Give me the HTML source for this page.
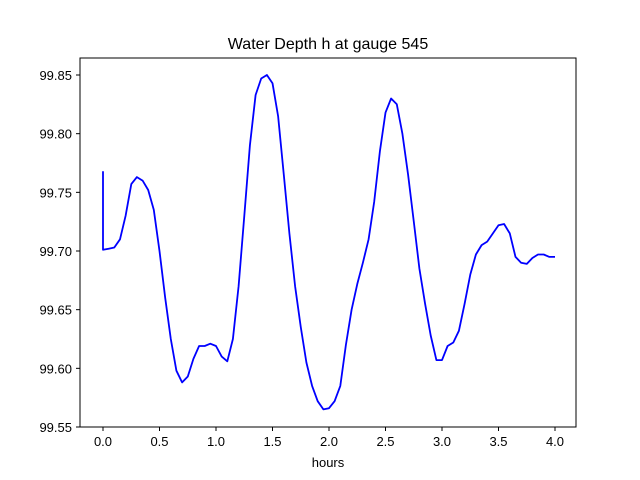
<!DOCTYPE html>
<html><head><meta charset="utf-8"><style>
body{margin:0;background:#fff}
svg{display:block;font-family:"Liberation Sans","DejaVu Sans",sans-serif}
</style></head><body>
<svg id="chart" width="640" height="480">
<rect width="640" height="480" fill="#fff"/>
<text x="328" y="49" text-anchor="middle" font-size="16">Water Depth h at gauge 545</text>
<g id="xticks"></g>
<g id="yticks"></g>
<path id="line" fill="none" stroke="#0000ff" stroke-width="1.8" stroke-linejoin="round"/>
<rect x="80" y="58" width="496" height="369" fill="none" stroke="#000" stroke-width="1"/>
<text x="328" y="467" text-anchor="middle" font-size="13">hours</text>
</svg>
<script>
const times = [0,0,0.05,0.1,0.15,0.2,0.25,0.3,0.35,0.4,0.45,0.5,0.55,0.6,0.65,0.7,0.75,0.8,0.85,0.9,0.95,1.0,1.05,1.1,1.15,1.2,1.25,1.3,1.35,1.4,1.45,1.5,1.55,1.6,1.65,1.7,1.75,1.8,1.85,1.9,1.95,2.0,2.05,2.1,2.15,2.2,2.25,2.3,2.35,2.4,2.45,2.5,2.55,2.6,2.65,2.7,2.75,2.8,2.85,2.9,2.95,3.0,3.05,3.1,3.15,3.2,3.25,3.3,3.35,3.4,3.45,3.5,3.55,3.6,3.65,3.7,3.75,3.8,3.85,3.9,3.95,4.0];
const depths = [99.768,99.701,99.702,99.703,99.710,99.730,99.757,99.763,99.760,99.752,99.735,99.700,99.660,99.625,99.598,99.588,99.593,99.608,99.619,99.619,99.621,99.619,99.610,99.606,99.625,99.670,99.730,99.790,99.833,99.847,99.850,99.843,99.815,99.765,99.715,99.670,99.635,99.605,99.585,99.572,99.565,99.566,99.572,99.585,99.620,99.650,99.672,99.690,99.710,99.742,99.785,99.818,99.830,99.825,99.800,99.765,99.725,99.685,99.655,99.628,99.607,99.607,99.619,99.622,99.632,99.655,99.680,99.697,99.705,99.708,99.715,99.722,99.723,99.715,99.695,99.690,99.689,99.694,99.697,99.697,99.695,99.695];
const xTickLabels = ["0.0","0.5","1.0","1.5","2.0","2.5","3.0","3.5","4.0"];
const yTickLabels = ["99.55","99.60","99.65","99.70","99.75","99.80","99.85"];
const NS="http://www.w3.org/2000/svg";
function xs(t){return 103+(t-0)*113;}
function ys(v){return 427-(v-99.55)*1173.3;}
const xg=document.getElementById('xticks');
xTickLabels.forEach(l=>{
  const x=xs(parseFloat(l));
  const ln=document.createElementNS(NS,'line');
  ln.setAttribute('x1',x);ln.setAttribute('x2',x);ln.setAttribute('y1',427);ln.setAttribute('y2',431);ln.setAttribute('stroke','#000');
  
  
  xg.appendChild(ln);
  const tx=document.createElementNS(NS,'text');
  tx.setAttribute('x',x);tx.setAttribute('y',446);tx.setAttribute('text-anchor','middle');tx.setAttribute('font-size','13');
  tx.textContent=l;
  
  
  xg.appendChild(tx);
});
const yg=document.getElementById('yticks');
yTickLabels.forEach(l=>{
  const y=ys(parseFloat(l));
  const ln=document.createElementNS(NS,'line');
  ln.setAttribute('x1',76);ln.setAttribute('x2',80);ln.setAttribute('y1',y);ln.setAttribute('y2',y);ln.setAttribute('stroke','#000');
  
  
  yg.appendChild(ln);
  const tx=document.createElementNS(NS,'text');
  tx.setAttribute('x',72);tx.setAttribute('y',y+5);tx.setAttribute('text-anchor','end');tx.setAttribute('font-size','13');
  tx.textContent=l;
  
  
  yg.appendChild(tx);
});
let d='';
times.forEach((t,i)=>{d+=(i?'L':'M')+xs(t).toFixed(1)+','+ys(depths[i]).toFixed(1);});
document.getElementById('line').setAttribute('d',d);
</script>
</body></html>
